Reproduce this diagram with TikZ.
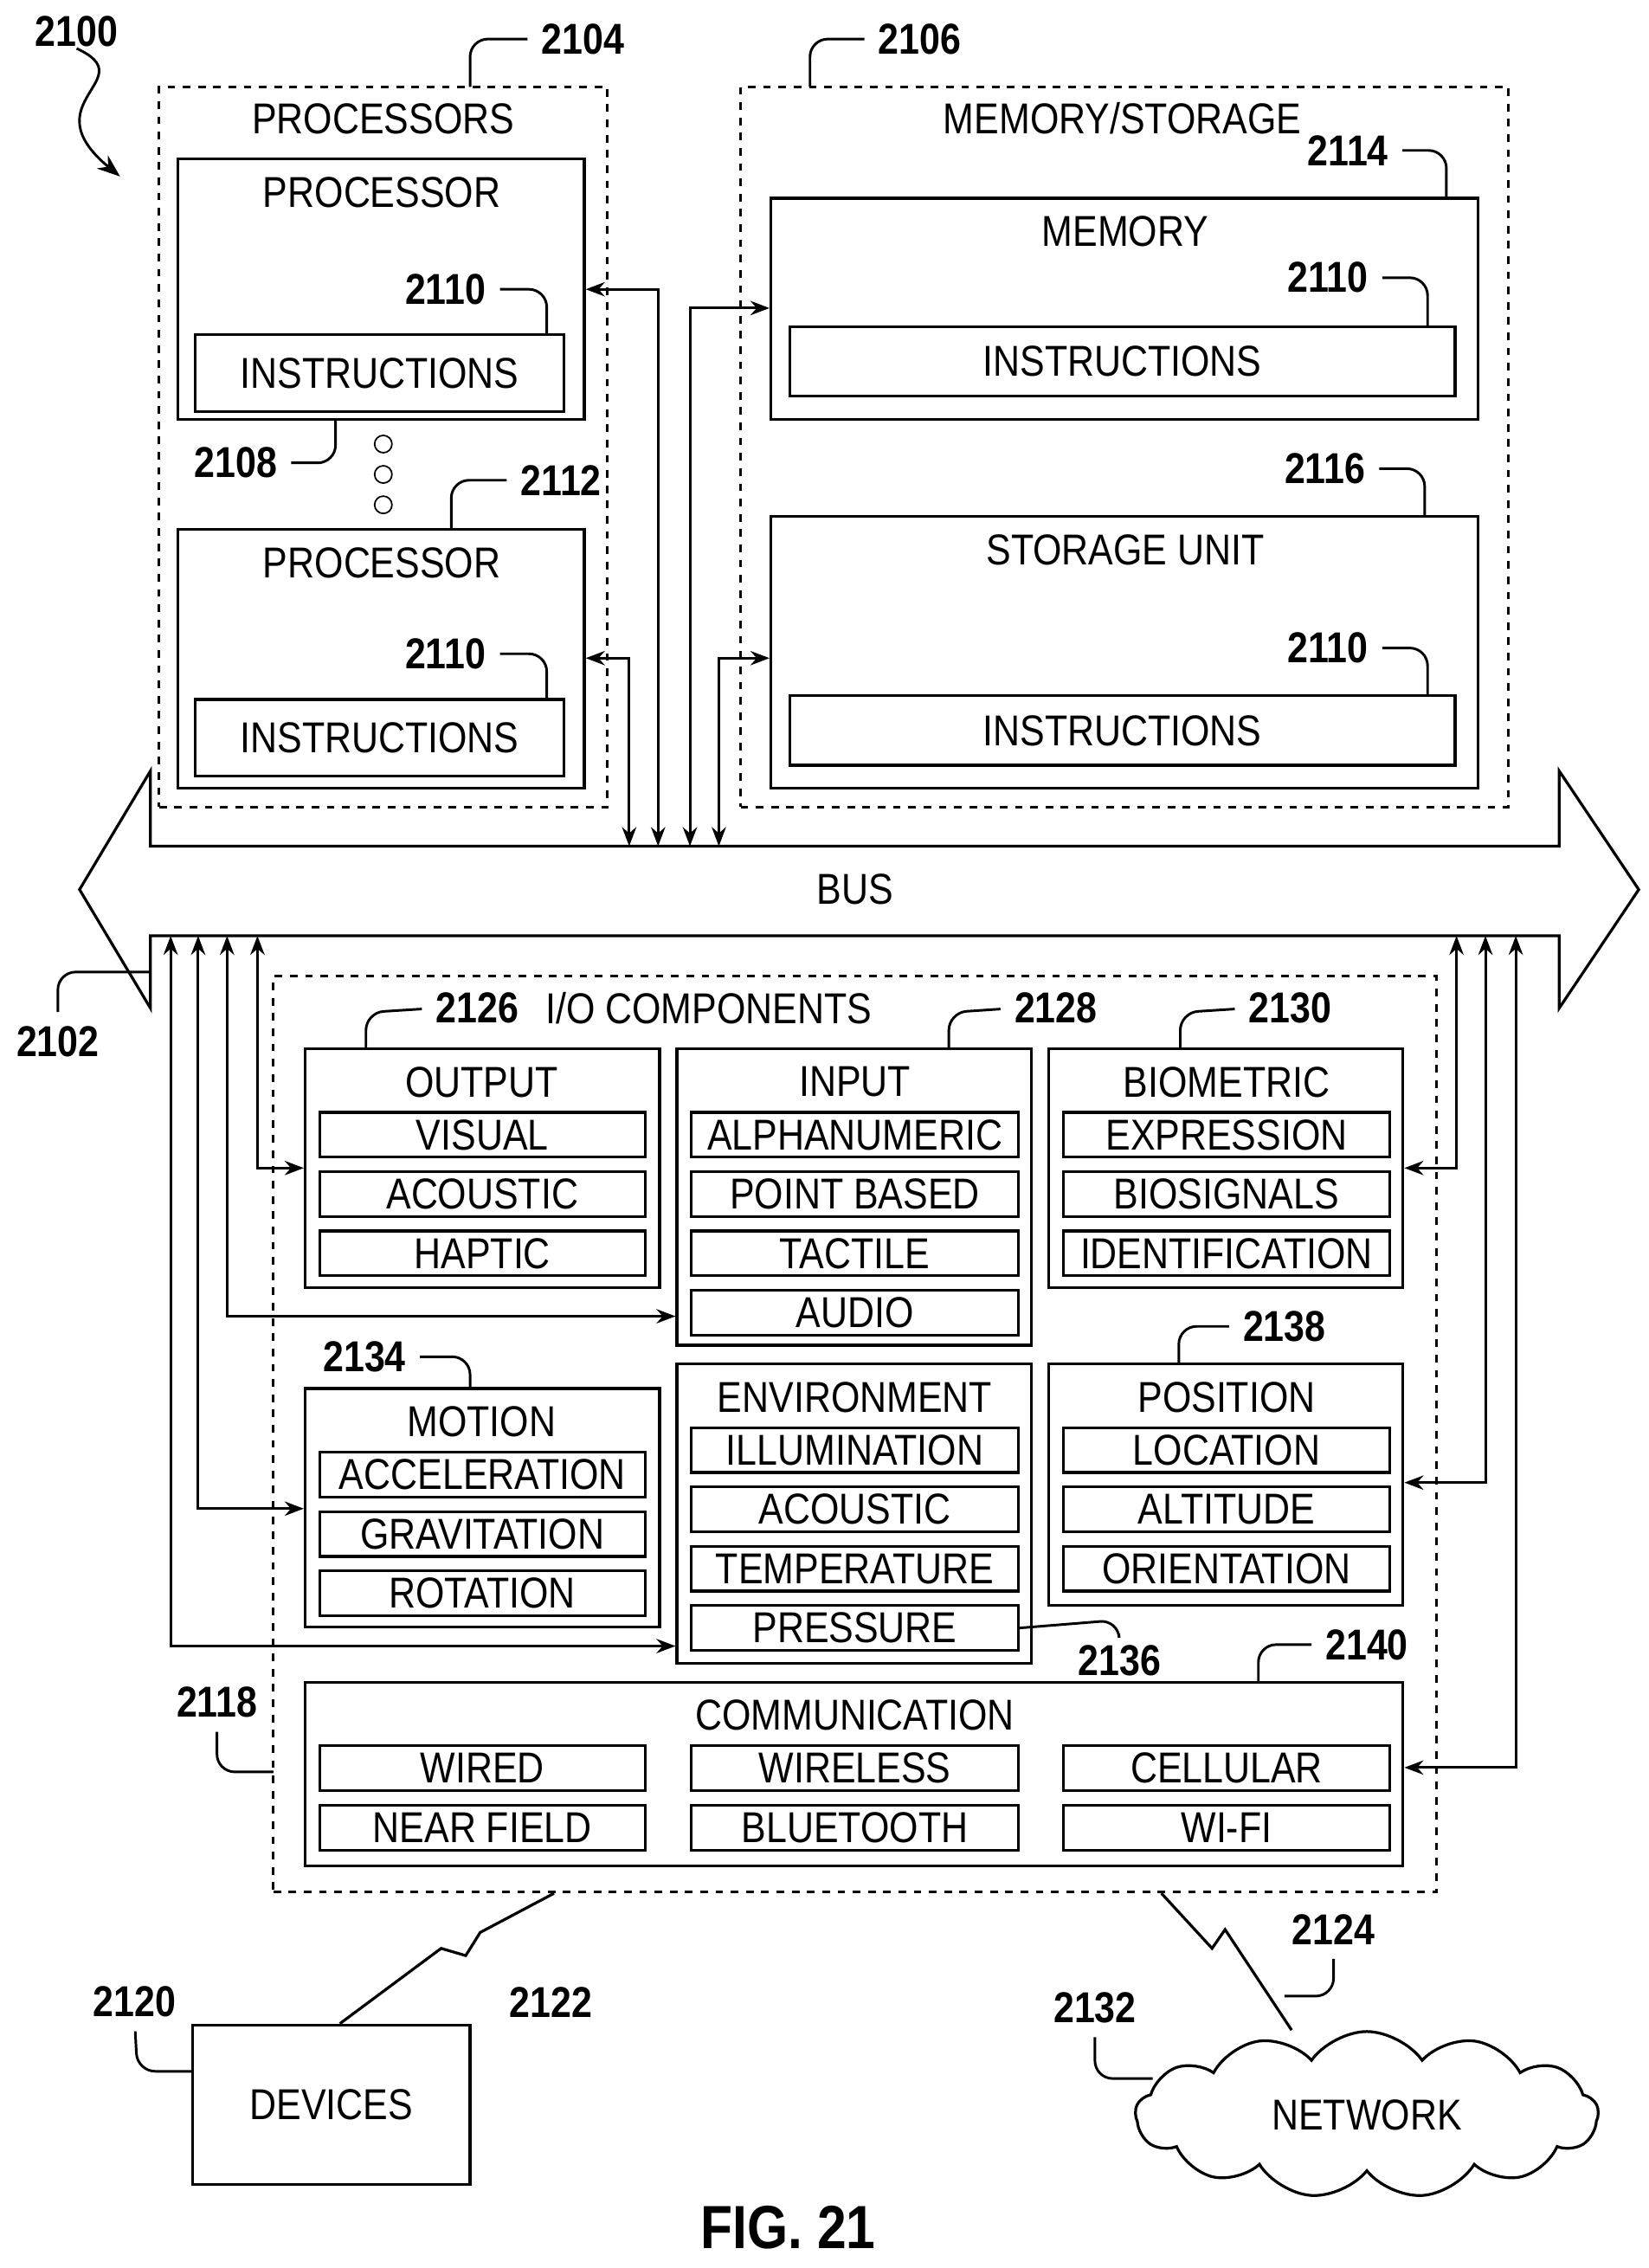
\documentclass[tikz,border=0pt]{standalone}
\usepackage{fontspec}
\setmainfont{Liberation Sans}[FakeStretch=0.86]
\usetikzlibrary{arrows.meta, calc, shapes.symbols}

\begin{document}
\begin{tikzpicture}[
        x=0.02cm, y=-0.02cm,
        line width=1.1pt,
        every node/.style={font=\fontsize{17}{20}\selectfont, inner sep=0pt},
        sz/.style 2 args={minimum width=#1*0.02cm, minimum height=#2*0.02cm},
        box/.style={draw, rectangle},
        dbox/.style={draw, rectangle, dashed},
        num/.style={font=\fontsize{17}{20}\selectfont\bfseries},
        lead/.style={line width=1pt, rounded corners=7pt, shorten <=5pt},
        link/.style={Stealth-Stealth, line width=1pt}
    ]
    \useasboundingbox (0,0) rectangle (1140,1568);

    % processors and memory
    \node[dbox, sz={310}{498}] (procs) at (265,309) {};
    \node at (265,82) {PROCESSORS};
    \node[box, sz={281}{180}] (proc1) at (263.5,200) {};
    \node at (264,133) {PROCESSOR};
    \node[box, sz={255}{53}] (ins1) at (262.5,258) {INSTRUCTIONS};
    \node[box, sz={281}{179}] (proc2) at (263.5,455.5) {};
    \node at (264,389) {PROCESSOR};
    \node[box, sz={255}{53}] (ins2) at (262.5,510) {INSTRUCTIONS};
    \foreach \y in {307,328,349}
        \draw[line width=0.6pt] (265,\y) circle (6);

    \node[dbox, sz={531}{498}] (memst) at (777.5,309) {};
    \node at (776,82) {MEMORY/STORAGE};
    \node[box, sz={489}{153}] (mem) at (777.5,213.5) {};
    \node at (778,160) {MEMORY};
    \node[box, sz={460}{48}] (ins3) at (776,250) {INSTRUCTIONS};
    \node[box, sz={489}{188}] (stor) at (777.5,451) {};
    \node at (778,380) {STORAGE UNIT};
    \node[box, sz={460}{48}] (ins4) at (776,505) {INSTRUCTIONS};

    % bus
    \draw (104,585) -- (104,533) -- (55,615) -- (104,697) -- (104,647) -- (1078,647)
        -- (1078,697) -- (1133,615) -- (1078,533) -- (1078,585) -- cycle;
    \node (bus) at (591,615) {BUS};

    \foreach \x in {435,455,477,497} \coordinate (bt\x) at (\x,585);
    \draw[link] (proc1.east |- 0,200) -| (bt455);
    \draw[link] (proc2.east |- 0,455) -| (bt435);
    \draw[link] (mem.west |- 0,213) -| (bt477);
    \draw[link] (stor.west |- 0,455) -| (bt497);

    % i/o components
    \node[dbox, sz={804}{633}] (io) at (591,991.5) {};
    \node at (490,697) {I/O COMPONENTS};

    \node[box, sz={245}{165}] (out) at (333.5,807.5) {};
    \node at (333,748) {OUTPUT};
    \node[box, sz={245}{205}] (inp) at (590.5,827.5) {};
    \node at (591,748) {INPUT};
    \node[box, sz={245}{165}] (bio) at (847.5,807.5) {};
    \node at (848,748) {BIOMETRIC};
    \node[box, sz={245}{165}] (mot) at (333.5,1042.5) {};
    \node at (333,983) {MOTION};
    \node[box, sz={245}{207}] (env) at (590.5,1046.5) {};
    \node at (591,966) {ENVIRONMENT};
    \node[box, sz={245}{167}] (pos) at (847.5,1026.5) {};
    \node at (848,966) {POSITION};
    \node[box, sz={759}{127}] (comm) at (590.5,1226.5) {};
    \node at (591,1186) {COMMUNICATION};

    \foreach \t [count=\i] in {VISUAL,ACOUSTIC,HAPTIC}
        \node[box, sz={225}{31}] (out\i) at (333.5,743.5+41*\i) {\t};
    \foreach \t [count=\i] in {ALPHANUMERIC,POINT BASED,TACTILE,AUDIO}
        \node[box, sz={226}{31}] (inp\i) at (591,743.5+41*\i) {\t};
    \foreach \t [count=\i] in {EXPRESSION,BIOSIGNALS,IDENTIFICATION}
        \node[box, sz={226}{31}] (bio\i) at (848,743.5+41*\i) {\t};
    \foreach \t [count=\i] in {ACCELERATION,GRAVITATION,ROTATION}
        \node[box, sz={225}{31}] (mot\i) at (333.5,978.5+41*\i) {\t};
    \foreach \t [count=\i] in {ILLUMINATION,ACOUSTIC,TEMPERATURE,PRESSURE}
        \node[box, sz={226}{31}] (env\i) at (591,961.5+41*\i) {\t};
    \foreach \t [count=\i] in {LOCATION,ALTITUDE,ORIENTATION}
        \node[box, sz={226}{31}] (pos\i) at (848,961.5+41*\i) {\t};
    \foreach \t [count=\i] in {WIRED,NEAR FIELD}
        \node[box, sz={225}{31}] (comA\i) at (333.5,1181.5+41*\i) {\t};
    \foreach \t [count=\i] in {WIRELESS,BLUETOOTH}
        \node[box, sz={226}{31}] (comB\i) at (591,1181.5+41*\i) {\t};
    \foreach \t [count=\i] in {CELLULAR,WI-FI}
        \node[box, sz={226}{31}] (comC\i) at (848,1181.5+41*\i) {\t};

    \foreach \x in {118,137,157,178,1007,1027,1048} \coordinate (bb\x) at (\x,647);
    \draw[link] (out.west) -| (bb178);
    \draw[link] (inp.west |- 0,910) -| (bb157);
    \draw[link] (mot.west |- 0,1043) -| (bb137);
    \draw[link] (env.west |- 0,1138) -| (bb118);
    \draw[link] (bio.east) -| (bb1007);
    \draw[link] (pos.east |- 0,1025) -| (bb1027);
    \draw[link] (comm.east |- 0,1222) -| (bb1048);

    % devices and network
    \node[box, sz={192}{110}] (dev) at (229,1455) {DEVICES};
    \node[draw, cloud, cloud puffs=13, cloud puff arc=110, aspect=2.6,
        sz={320}{115}] (net) at (945,1462) {NETWORK};
    \draw (io.south -| 383,0) -- (332,1336) -- (322,1352) -- (305,1347) -- (dev.north -| 235,0);
    \draw (io.south -| 803,0) -- (838,1347) -- (847,1334) -- (net.north -| 893,0);

    % reference numerals
    \node[num] (n2100) at (53,22) {2100};
    \node[num] (n2104) at (403,27) {2104};
    \node[num] (n2106) at (636,27) {2106};
    \node[num] (n2110a) at (308,200) {2110};
    \node[num] (n2110b) at (308,452) {2110};
    \node[num] (n2108) at (163,320) {2108};
    \node[num] (n2112) at (388,332) {2112};
    \node[num] (n2114) at (932,104) {2114};
    \node[num] (n2110c) at (918,192) {2110};
    \node[num] (n2116) at (916,324) {2116};
    \node[num] (n2110d) at (918,448) {2110};
    \node[num] (n2102) at (40,720) {2102};
    \node[num] (n2126) at (330,697) {2126};
    \node[num] (n2128) at (730,697) {2128};
    \node[num] (n2130) at (892,697) {2130};
    \node[num] (n2134) at (252,938) {2134};
    \node[num] (n2138) at (888,917) {2138};
    \node[num] (n2136) at (774,1148) {2136};
    \node[num] (n2140) at (945,1137) {2140};
    \node[num] (n2118) at (150,1177) {2118};
    \node[num] (n2120) at (93,1384) {2120};
    \node[num] (n2122) at (381,1384) {2122};
    \node[num] (n2124) at (922,1334) {2124};
    \node[num] (n2132) at (757,1388) {2132};
    \node[num, font=\fontsize{24}{28}\selectfont\bfseries] (fig) at (545,1540) {FIG. 21};

    \draw[-{Stealth[length=9pt]}, line width=1pt] (n2100.south) .. controls (100,55) and (20,70) .. (83,122);
    \draw[lead] (n2104.west) -- (325,27) -- (325,60);
    \draw[lead] (n2106.west) -- (560,27) -- (560,60);
    \draw[lead] (n2110a.east) -- (378,200) -- (378,232);
    \draw[lead] (n2110b.east) -- (378,452) -- (378,484);
    \draw[lead] (n2108.east) -- (232,320) -- (232,290);
    \draw[lead] (n2112.west) -- (312,332) -- (312,366);
    \draw[lead] (n2114.east) -- (1000,104) -- (1000,137);
    \draw[lead] (n2110c.east) -- (987,192) -- (987,226);
    \draw[lead] (n2116.east) -- (985,324) -- (985,357);
    \draw[lead] (n2110d.east) -- (987,448) -- (987,481);
    \draw[lead] (n2102.north) -- (40,672) -- (104,672);
    \draw[lead] (n2126.west) -- (253,700) -- (253,725);
    \draw[lead] (n2128.west) -- (656,700) -- (656,725);
    \draw[lead] (n2130.west) -- (816,700) -- (816,725);
    \draw[lead] (n2134.east) -- (325,938) -- (325,960);
    \draw[lead] (n2138.west) -- (815,917) -- (815,943);
    \draw[lead, shorten <=0pt, shorten >=4pt] (env4.east) -- (773,1120) -- (n2136.north);
    \draw[lead] (n2140.west) -- (870,1137) -- (870,1163);
    \draw[lead] (n2118.south) -- (150,1225) -- (189,1225);
    \draw[lead] (n2120.south) -- (95,1432) -- (133,1432);
    \draw[lead] (n2132.south) -- (757,1437) -- (797,1437);
    \draw[lead] (n2124.south) -- (922,1380) -- (888,1380);
\end{tikzpicture}
\end{document}
